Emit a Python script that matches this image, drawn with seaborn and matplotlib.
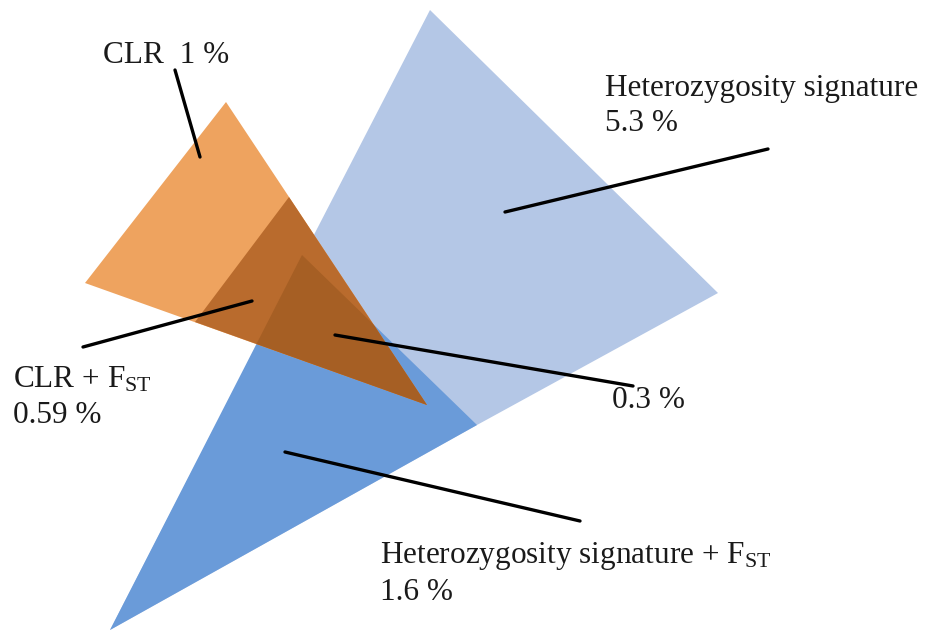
import matplotlib
matplotlib.use('Agg')
import matplotlib.pyplot as plt
import numpy as np
import pandas as pd
import seaborn as sns
from matplotlib.patches import Polygon

# triangle vertices (image pixel space, y grows downwards)
het_x = [430, 718, 477, 110]
het_y = [10, 293, 425, 630]
het_fst_x = [110, 302, 477]
het_fst_y = [630, 255, 425]
clr_x = [226, 85, 427]
clr_y = [102, 283, 405]
clr_fst_x = [289, 195, 427]
clr_fst_y = [197, 322, 405]

# leader lines: start in shape, end at label
lead_x0 = [200, 505, 252, 335, 285]
lead_y0 = [157, 212, 301, 335, 452]
lead_x1 = [175, 768, 83, 633, 580]
lead_y1 = [70, 149, 347, 386, 521]

labels = [
    "CLR  1 %",
    "Heterozygosity signature", "5.3 %",
    r"CLR + F$_{\mathrm{ST}}$", "0.59 %",
    "0.3 %",
    r"Heterozygosity signature + F$_{\mathrm{ST}}$", "1.6 %",
]
label_x = [103, 605, 605, 13, 13, 612, 380, 380]
label_y = [63, 96, 131, 387, 423, 408, 563, 600]

sns.set_theme(style="white")
plt.rcParams['font.family'] = ['Liberation Serif', 'DejaVu Serif']
plt.rcParams['mathtext.fontset'] = 'custom'
plt.rcParams['mathtext.rm'] = 'Liberation Serif'
plt.rcParams['mathtext.it'] = 'Liberation Serif:italic'

fig = plt.figure(figsize=(9.27, 6.32), dpi=100)
ax = fig.add_axes([0, 0, 1, 1])
ax.set_xlim(0, 927)
ax.set_ylim(632, 0)
ax.axis('off')

ax.fill(het_x, het_y, color="#B4C7E6", lw=0)
ax.fill(het_fst_x, het_fst_y, color="#6A9BD9", lw=0)
ax.fill(clr_x, clr_y, color="#EEA35F", lw=0)
ax.fill(clr_fst_x, clr_fst_y, color="#B96B2D", lw=0)

# three-way overlap: darker brown, clipped to the CLR+FST triangle
clip = Polygon(np.column_stack([clr_fst_x, clr_fst_y]), closed=True,
               transform=ax.transData, facecolor='none', edgecolor='none')
ax.add_patch(clip)
dark = ax.fill(het_fst_x, het_fst_y, color="#A65F24", lw=0)[0]
dark.set_clip_path(clip)

# leader lines through seaborn
segs = pd.DataFrame({
    'x': [v for pair in zip(lead_x0, lead_x1) for v in pair],
    'y': [v for pair in zip(lead_y0, lead_y1) for v in pair],
    'seg': [i for i in range(len(lead_x0)) for _ in range(2)],
})
sns.lineplot(data=segs, x='x', y='y', units='seg', estimator=None,
             sort=False, color='black', lw=2.4, legend=False, ax=ax)
ax.set_xlim(0, 927)
ax.set_ylim(632, 0)
ax.axis('off')

for txt, x, y in zip(labels, label_x, label_y):
    ax.text(x, y, txt, fontsize=22.5, color='#1a1a1a', ha='left', va='baseline')

fig.savefig("out.png", dpi=100)
